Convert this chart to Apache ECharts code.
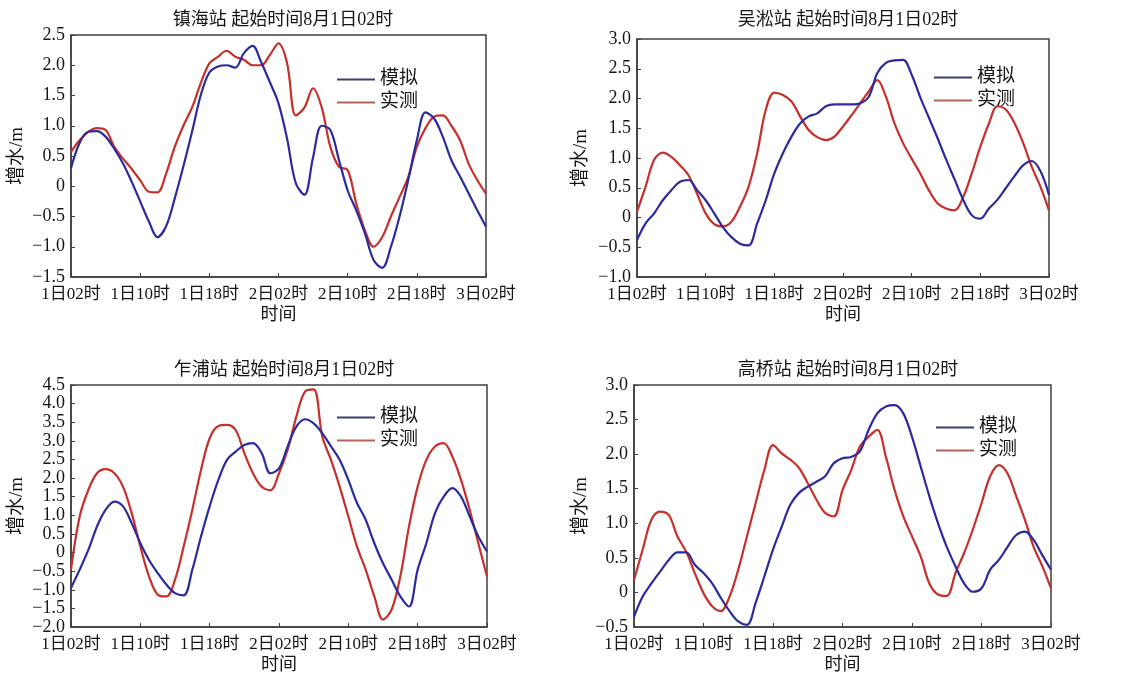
<!DOCTYPE html>
<html>
<head>
<meta charset="utf-8">
<script src="https://cdn.jsdelivr.net/npm/echarts@6/dist/echarts.min.js"></script>
<style>
  html, body { margin: 0; padding: 0; background: #fff; }
  #chart { width: 1136px; height: 679px; }
</style>
</head>
<body>
<div id="chart"></div>
<script>
// Hours since 8月1日02时
const hours = [0,1,2,3,4,5,6,7,8,9,10,11,12,13,14,15,16,17,18,19,20,21,22,23,24,25,26,27,28,29,30,31,32,33,34,35,36,37,38,39,40,41,42,43,44,45,46,47,48];
const tickLabels = ['1日02时', '1日10时', '1日18时', '2日02时', '2日10时', '2日18时', '3日02时'];
const stations = ['镇海站', '吴淞站', '乍浦站', '高桥站'];
const seriesNames = ['模拟', '实测'];

// 镇海站
const zhenhaiSim = [0.30,0.72,0.90,0.91,0.82,0.62,0.38,0.08,-0.25,-0.58,-0.84,-0.66,-0.20,0.33,0.90,1.50,1.88,1.98,2.00,1.96,2.20,2.32,2.05,1.72,1.37,0.78,0.05,-0.14,0.48,1.00,0.93,0.43,-0.07,-0.40,-0.78,-1.22,-1.35,-1.00,-0.50,0.10,0.76,1.22,1.12,0.82,0.43,0.16,-0.12,-0.40,-0.67];
const zhenhaiObs = [0.57,0.76,0.90,0.96,0.93,0.65,0.46,0.29,0.10,-0.09,-0.10,0.21,0.65,1.00,1.30,1.70,2.03,2.14,2.24,2.14,2.09,2.00,2.00,2.17,2.36,2.03,1.17,1.30,1.62,1.30,0.65,0.32,0.27,-0.29,-0.73,-1.00,-0.84,-0.50,-0.18,0.15,0.65,0.96,1.15,1.17,1.00,0.76,0.37,0.10,-0.12];
// 吴淞站
const wusongSim = [-0.38,-0.10,0.07,0.29,0.46,0.60,0.63,0.46,0.29,0.07,-0.16,-0.33,-0.44,-0.47,-0.10,0.29,0.74,1.08,1.36,1.58,1.70,1.75,1.87,1.90,1.90,1.90,1.92,2.03,2.43,2.60,2.64,2.65,2.40,2.02,1.68,1.34,0.98,0.64,0.30,0.04,-0.02,0.15,0.30,0.50,0.70,0.88,0.95,0.78,0.38];
const wusongObs = [0.10,0.52,0.97,1.09,1.02,0.88,0.71,0.40,0.07,-0.11,-0.15,-0.07,0.18,0.52,1.08,1.81,2.10,2.06,1.95,1.70,1.47,1.35,1.30,1.36,1.53,1.72,1.92,2.12,2.31,2.03,1.58,1.25,0.99,0.74,0.46,0.24,0.15,0.12,0.34,0.74,1.19,1.58,1.87,1.81,1.58,1.25,0.85,0.52,0.12];
// 乍浦站
const zhapuSim = [-0.95,-0.46,0.07,0.70,1.15,1.37,1.24,0.79,0.25,-0.20,-0.55,-0.86,-1.09,-1.15,-0.46,0.43,1.24,1.95,2.49,2.71,2.89,2.94,2.67,2.13,2.26,2.85,3.38,3.58,3.47,3.20,2.85,2.49,1.95,1.33,0.88,0.25,-0.29,-0.73,-1.18,-1.45,-0.46,0.25,1.06,1.50,1.73,1.50,0.97,0.43,0.03];
const zhapuObs = [-0.46,0.97,1.68,2.13,2.24,2.13,1.77,1.06,0.16,-0.64,-1.13,-1.18,-0.73,0.16,1.15,2.22,3.07,3.40,3.43,3.29,2.67,2.13,1.77,1.67,2.13,2.76,3.65,4.32,4.38,3.11,2.49,1.77,0.97,0.16,-0.46,-1.18,-1.80,-1.53,-0.64,0.70,1.77,2.49,2.85,2.94,2.58,1.95,1.15,0.25,-0.64];
// 高桥站
const gaoqiaoSim = [-0.35,-0.06,0.13,0.30,0.47,0.58,0.58,0.40,0.28,0.13,-0.08,-0.27,-0.42,-0.47,-0.15,0.23,0.62,0.95,1.27,1.44,1.53,1.60,1.68,1.87,1.94,1.96,2.04,2.35,2.59,2.69,2.71,2.59,2.25,1.82,1.39,1.00,0.66,0.38,0.13,0.01,0.06,0.33,0.47,0.66,0.83,0.88,0.76,0.54,0.33];
const gaoqiaoObs = [0.18,0.62,1.05,1.17,1.12,0.81,0.59,0.28,-0.01,-0.20,-0.27,-0.06,0.33,0.81,1.29,1.77,2.13,2.01,1.92,1.80,1.58,1.34,1.15,1.10,1.48,1.77,2.11,2.25,2.35,1.96,1.48,1.10,0.81,0.52,0.13,-0.03,-0.05,0.28,0.57,0.91,1.29,1.68,1.84,1.72,1.39,1.05,0.66,0.38,0.06];

// y-axis ranges per station
const yMins = [-1.5, -1.0, -2.0, -0.5];
const yMaxs = [2.5, 3.0, 4.5, 3.0];

const simValues = [zhenhaiSim, wusongSim, zhapuSim, gaoqiaoSim];
const obsValues = [zhenhaiObs, wusongObs, zhapuObs, gaoqiaoObs];

const FONT = "'Liberation Serif', 'Times New Roman', 'Noto Sans CJK SC', serif";
const SIM_COLOR = '#2a2c9e';
const OBS_COLOR = '#c62f2a';
const FRAME = '#3f3f3f';
const TEXT = '#161616';

// panel boxes: [left, top, width, height]
const boxes = [
  [71, 35, 415, 242],
  [637, 39, 412, 238],
  [71, 385, 416, 242],
  [634, 385, 417, 242]
];
const titleCenters = [[278, 6], [843, 6], [279, 356], [843, 356]];
const legendPos = [[332, 65], [929, 63], [332, 403], [931, 413]];
const yNameGaps = [44, 46, 44, 43];

const pair = (vals) => hours.map((h, i) => [h, vals[i]]);
const fmtY = (v) => {
  if (Math.abs(v) < 1e-9) return '0';
  const s = Math.abs(v).toFixed(1);
  return (v < 0 ? '\u2212' : '') + s;
};

const grid = [], xAxis = [], yAxis = [], series = [], title = [], legend = [];
boxes.forEach((b, i) => {
  grid.push({
    left: b[0], top: b[1], width: b[2], height: b[3],
    show: true, borderColor: FRAME, borderWidth: 1.5, backgroundColor: '#fff'
  });
  title.push({
    text: stations[i] + ' 起始时间8月1日02时',
    left: titleCenters[i][0], top: titleCenters[i][1], textAlign: 'center',
    textStyle: { fontFamily: FONT, fontSize: 18, fontWeight: 'normal', color: TEXT }
  });
  xAxis.push({
    type: 'value', gridIndex: i, min: 0, max: 48, interval: 8,
    name: '时间', nameLocation: 'middle', nameGap: 29,
    nameTextStyle: { fontFamily: FONT, fontSize: 18, color: TEXT },
    axisLine: { show: true, onZero: false, lineStyle: { color: FRAME, width: 1.5 } },
    axisTick: { show: true, inside: true, length: 4, lineStyle: { color: FRAME } },
    axisLabel: {
      fontFamily: FONT, fontSize: 17, color: TEXT, margin: 9,
      formatter: (v) => tickLabels[Math.round(v / 8)]
    },
    splitLine: { show: false }
  });
  yAxis.push({
    type: 'value', gridIndex: i, min: yMins[i], max: yMaxs[i], interval: 0.5,
    name: '增水/m', nameLocation: 'middle', nameGap: yNameGaps[i], nameRotate: 90,
    nameTextStyle: { fontFamily: FONT, fontSize: 19, color: TEXT },
    axisLine: { show: true, onZero: false, lineStyle: { color: FRAME, width: 1.5 } },
    axisTick: { show: true, inside: true, length: 4, lineStyle: { color: FRAME } },
    axisLabel: { fontFamily: FONT, fontSize: 18, color: TEXT, margin: 6, formatter: fmtY },
    splitLine: { show: false }
  });
  series.push({
    name: seriesNames[0], type: 'line', xAxisIndex: i, yAxisIndex: i,
    data: pair(simValues[i]), symbol: 'none', smooth: 0.35,
    lineStyle: { color: SIM_COLOR, width: 2.2 }, itemStyle: { color: SIM_COLOR },
    z: 3
  });
  series.push({
    name: seriesNames[1], type: 'line', xAxisIndex: i, yAxisIndex: i,
    data: pair(obsValues[i]), symbol: 'none', smooth: 0.35,
    lineStyle: { color: OBS_COLOR, width: 2.2 }, itemStyle: { color: OBS_COLOR },
    z: 2
  });
  legend.push({
    left: legendPos[i][0], top: legendPos[i][1], orient: 'vertical',
    itemWidth: 38, itemHeight: 14, itemGap: 4, itemTextGap: 6,
    selectedMode: false,
    data: [
      { name: seriesNames[0], icon: 'path://M0,6 L38,6 L38,8 L0,8 Z', itemStyle: { color: '#3b3f73' } },
      { name: seriesNames[1], icon: 'path://M0,6 L38,6 L38,8 L0,8 Z', itemStyle: { color: '#b0645a' } }
    ],
    textStyle: { fontFamily: FONT, fontSize: 19, color: TEXT, lineHeight: 18 }
  });
});

const chart = echarts.init(document.getElementById('chart'), null, { renderer: 'canvas' });
chart.setOption({
  backgroundColor: '#fff',
  animation: false,
  title, grid, xAxis, yAxis, legend, series
});
</script>
</body>
</html>
